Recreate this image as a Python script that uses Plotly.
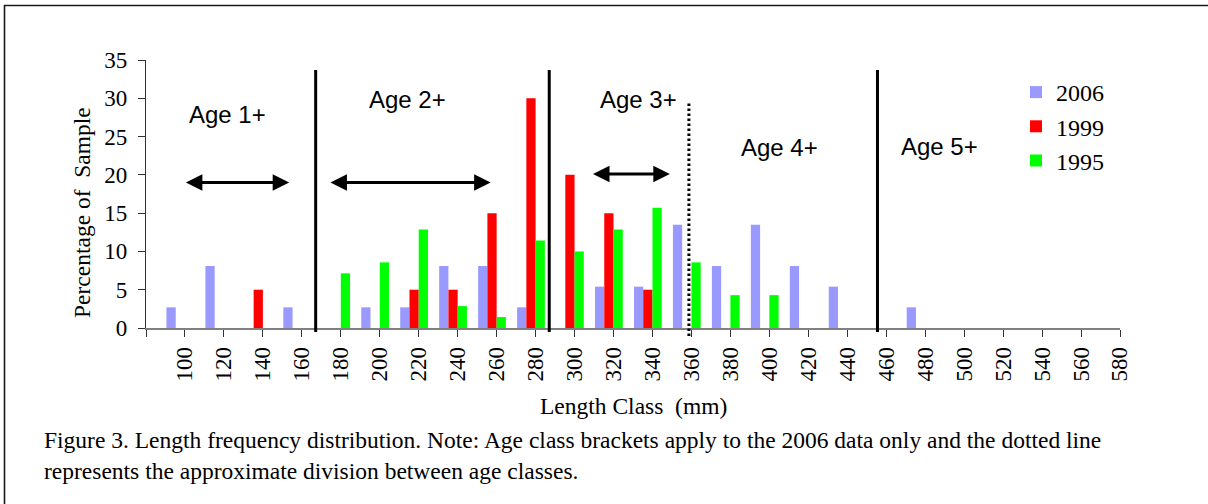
import plotly.graph_objects as go

# ---- data ----
lengths = [100, 120, 140, 160, 180, 200, 220, 240, 260, 280, 300, 320, 340,
           360, 380, 400, 420, 440, 460, 480, 500, 520, 540, 560, 580]
pct_2006 = [2.7, 8.1, 0, 2.7, 0, 2.7, 2.7, 8.1, 8.1, 2.7, 0, 5.4, 5.4,
            13.5, 8.1, 13.5, 8.1, 5.4, 0, 2.7, 0, 0, 0, 0, 0]
pct_1999 = [0, 0, 5, 0, 0, 0, 5, 5, 15, 30, 20, 15, 5,
            0, 0, 0, 0, 0, 0, 0, 0, 0, 0, 0, 0]
pct_1995 = [0, 0, 0, 0, 7.14, 8.57, 12.86, 2.86, 1.43, 11.43, 10, 12.86, 15.71,
            8.57, 4.29, 4.29, 0, 0, 0, 0, 0, 0, 0, 0, 0]
series_names = ["2006", "1999", "1995"]
y_ticks = [0, 5, 10, 15, 20, 25, 30, 35]
age_labels = ["Age 1+", "Age 2+", "Age 3+", "Age 4+", "Age 5+"]

# ---- layout geometry ----
W, H = 1208, 504
L, R, T, B = 146, 88, 60, 176
PW, PH = W - L - R, H - T - B
XMIN, XMAX = 80, 580
YMAX = 35

def px_x(px):
    return (px - L) / PW

def px_y(py):
    return (H - B - py) / PH

def val_x(v):
    return (v - XMIN) / (XMAX - XMIN)

colors = ["#9999FF", "#FF0000", "#00FF00"]
series = [pct_2006, pct_1999, pct_1995]
bw = 4.75
offsets = [-2 * bw, -bw, 0]

fig = go.Figure()
for name, vals, col, off in zip(series_names, series, colors, offsets):
    fig.add_trace(go.Bar(
        x=lengths, y=vals, name=name, width=bw, offset=off,
        marker=dict(color=col, line=dict(width=0)),
    ))

serif = "Liberation Serif, Times New Roman, serif"
sans = "Liberation Sans, Arial, sans-serif"

shapes = []
# age-class dividers (solid)
for v in [167.1, 287.0, 455.5]:
    shapes.append(dict(type="line", xref="paper", yref="paper",
                       x0=val_x(v), x1=val_x(v), y0=px_y(332), y1=px_y(70),
                       line=dict(color="black", width=3)))
# approximate division (dotted)
shapes.append(dict(type="line", xref="paper", yref="paper",
                   x0=val_x(358.7), x1=val_x(358.7), y0=px_y(336), y1=px_y(103),
                   line=dict(color="black", width=3, dash="2.6px,2.4px")))
# frame lines
shapes.append(dict(type="line", xref="paper", yref="paper",
                   x0=px_x(4), x1=px_x(W), y0=px_y(5.5), y1=px_y(5.5),
                   line=dict(color="#1a1a1a", width=1.6)))
shapes.append(dict(type="line", xref="paper", yref="paper",
                   x0=px_x(4.5), x1=px_x(4.5), y0=px_y(5), y1=px_y(H + 2),
                   line=dict(color="#1a1a1a", width=1.6)))

annotations = []
age_pos = [(121.8, 27.9), (214.2, 29.86), (333.0, 29.86), (405.2, 23.6), (487.3, 23.68)]
for txt, (ax_, ay_) in zip(age_labels, age_pos):
    annotations.append(dict(x=ax_, y=ay_, xref="x", yref="y", text=txt,
                            xanchor="center", yanchor="middle",
                            showarrow=False, font=dict(family=sans, size=24, color="black")))
# double-headed brackets
for x0, x1, yy in [(99.7, 153.5, 19.0), (173.9, 256.9, 19.0), (308.7, 348.9, 20.1)]:
    annotations.append(dict(x=x1, y=yy, ax=x0, ay=yy, xref="x", yref="y",
                            axref="x", ayref="y", text="", showarrow=True,
                            arrowhead=2, startarrowhead=2, arrowside="end+start",
                            arrowsize=1.1, startarrowsize=1.1, arrowwidth=3,
                            arrowcolor="black"))
# axis titles
annotations.append(dict(x=px_x(82), y=px_y(213), xref="paper", yref="paper",
                        xanchor="center", yanchor="middle",
                        text="Percentage of  Sample", textangle=-90, showarrow=False,
                        font=dict(family=serif, size=23.5, color="black")))
annotations.append(dict(x=px_x(633), y=px_y(406), xref="paper", yref="paper",
                        xanchor="center", yanchor="middle",
                        text="Length Class  (mm)", showarrow=False,
                        font=dict(family=serif, size=23.5, color="black")))
# caption
cap1 = ("Figure 3. Length frequency distribution. Note: Age class brackets apply to "
        "the 2006 data only and the dotted line")
cap2 = "represents the approximate division between age classes."
annotations.append(dict(x=px_x(42), y=px_y(440), xref="paper", yref="paper",
                        text=cap1, showarrow=False, xanchor="left", yanchor="middle",
                        font=dict(family=serif, size=23.5, color="black")))
annotations.append(dict(x=px_x(42), y=px_y(471), xref="paper", yref="paper",
                        text=cap2, showarrow=False, xanchor="left", yanchor="middle",
                        font=dict(family=serif, size=23.5, color="black")))

tickvals = [XMIN] + lengths
ticktext = [""] + [str(v) for v in lengths]

fig.update_layout(
    width=W, height=H,
    margin=dict(l=L, r=R, t=T, b=B, autoexpand=False),
    paper_bgcolor="white", plot_bgcolor="white",
    barmode="overlay",
    showlegend=True,
    legend=dict(x=px_x(1016), y=px_y(70), xanchor="left", yanchor="top",
                font=dict(family=serif, size=24, color="black"),
                bgcolor="rgba(0,0,0,0)", itemwidth=30, tracegroupgap=0),
    xaxis=dict(range=[XMIN, XMAX], tickmode="array", tickvals=tickvals, ticktext=ticktext,
               tickangle=-90, ticks="outside", ticklen=7, tickcolor="#333",
               ticklabelstandoff=1,
               showline=True, linecolor="#808080", linewidth=1.5, showgrid=False,
               zeroline=False, tickfont=dict(family=serif, size=23, color="black")),
    yaxis=dict(range=[0, YMAX], tickmode="array", tickvals=y_ticks,
               ticks="outside", ticklen=7, tickcolor="#333",
               ticklabelstandoff=6,
               showline=True, linecolor="#333", linewidth=1.2, showgrid=False,
               zeroline=False, tickfont=dict(family=serif, size=23, color="black")),
    shapes=shapes, annotations=annotations,
)

fig.write_html("out.html",
               config={"displayModeBar": False},
               post_script="document.body.style.margin='0px';"
                           "document.body.style.overflow='hidden';")
